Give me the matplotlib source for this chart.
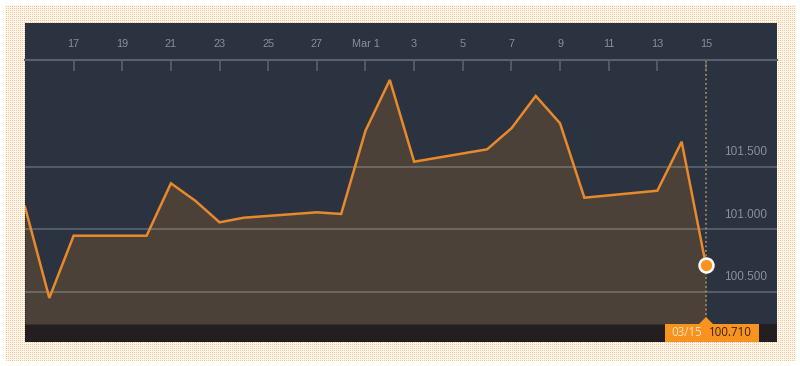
import numpy as np
import matplotlib
matplotlib.use("Agg")
import matplotlib.pyplot as plt
import matplotlib.dates as mdates
from matplotlib.patches import Rectangle, Polygon
from matplotlib.transforms import ScaledTranslation
import datetime as dt

# ---- data ----
dates = ["2017-02-15", "2017-02-16", "2017-02-17", "2017-02-20", "2017-02-21",
         "2017-02-22", "2017-02-23", "2017-02-24", "2017-02-27", "2017-02-28",
         "2017-03-01", "2017-03-02", "2017-03-03", "2017-03-06", "2017-03-07",
         "2017-03-08", "2017-03-09", "2017-03-10", "2017-03-13", "2017-03-14",
         "2017-03-15"]
values = [101.178, 100.450, 100.948, 100.948, 101.367,
          101.228, 101.055, 101.092, 101.135, 101.122,
          101.788, 102.194, 101.540, 101.639, 101.807,
          102.066, 101.847, 101.252, 101.308, 101.700,
          100.710]
ytick_values = [100.5, 101.0, 101.5]
xtick_dates = ["2017-02-17", "2017-02-19", "2017-02-21", "2017-02-23", "2017-02-25",
               "2017-02-27", "2017-03-01", "2017-03-03", "2017-03-05", "2017-03-07",
               "2017-03-09", "2017-03-11", "2017-03-13", "2017-03-15"]
xtick_labels = ["17", "19", "21", "23", "25", "27", "Mar 1", "3", "5", "7",
                "9", "11", "13", "15"]
cursor_label = "03/15"
cursor_value = "100.710"

plt.rcParams['font.family'] = ['Liberation Sans', 'DejaVu Sans']

W, H = 800, 366
fig = plt.figure(figsize=(W / 100, H / 100), dpi=100)
fig.patch.set_facecolor("white")

# dotted beige background pattern
img = np.ones((H, W, 3))
orange = np.array([0xf4, 0xc6, 0x96]) / 255.0
light = np.array([0xff, 0xf7, 0xee]) / 255.0
yy, xx = np.mgrid[0:H, 0:W]
region = (xx >= 5) & (xx < 796) & (yy >= 5) & (yy < 361)
img[region] = light
dots = region & (xx % 2 == 0) & (yy % 2 == 0)
img[dots] = orange
fig.figimage(img, xo=0, yo=0, origin="upper", zorder=0)

def fx(px):
    return px / W

def fy(py):
    return (H - py) / H

# dark panel
panel_l, panel_r, panel_t, panel_b = 25, 777, 23, 342
fig.add_artist(Rectangle((fx(panel_l), fy(panel_b)), fx(panel_r - panel_l), (panel_b - panel_t) / H,
                         transform=fig.transFigure, facecolor="#2b3240", edgecolor="none", zorder=1))
# bottom dark band
band_t = 324
fig.add_artist(Rectangle((fx(panel_l), fy(panel_b)), fx(panel_r - panel_l), (panel_b - band_t) / H,
                         transform=fig.transFigure, facecolor="#231f21", edgecolor="none", zorder=1))

axis_top = 60
ax = fig.add_axes([fx(panel_l), fy(band_t), fx(panel_r - panel_l), (band_t - axis_top) / H])
ax.set_facecolor("none")
ax.set_zorder(2)

x = mdates.date2num([dt.datetime.strptime(d, "%Y-%m-%d") for d in dates])
y = np.array(values)

xmin = mdates.date2num(dt.datetime(2017, 2, 15))
xmax = mdates.date2num(dt.datetime(2017, 3, 15)) + 2.92
ax.set_xlim(xmin, xmax)
ymin, ymax = 100.2416, 102.3536
ax.set_ylim(ymin, ymax)

ax.fill_between(x, y, ymin, color="#4b4139", zorder=1, linewidth=0)
for v in ytick_values:
    ax.axhline(v, color="white", alpha=0.2, lw=1.5, zorder=2)
ax.plot(x, y, color="#e8892b", lw=1.8, zorder=3, solid_joinstyle="miter")

# vertical cursor line
ax.axvline(x[-1], color="#a08a5c", lw=1.3, ls=(0, (1, 1.5)), zorder=2)
ax.plot([x[-1]], [y[-1]], "o", ms=10, mfc="#f7931e", mec="white", mew=1.8, zorder=4, clip_on=False)

# spines / ticks
for s in ["left", "right", "bottom"]:
    ax.spines[s].set_visible(False)
ax.spines["top"].set_color("#5b616c")
ax.spines["top"].set_linewidth(1.5)
tick_x = mdates.date2num([dt.datetime.strptime(d, "%Y-%m-%d") for d in xtick_dates])
ax.set_xticks(tick_x)
ax.set_xticklabels(xtick_labels)
ax.xaxis.set_ticks_position("top")
ax.tick_params(axis="x", direction="in", length=8, width=1.2, color="#5b616c",
               labelcolor="#8a8f99", labelsize=7.8, pad=8, top=True, bottom=False,
               labeltop=True, labelbottom=False)
ax.set_yticks([])

# y labels (inside, right)
off = ScaledTranslation(0, 6 / 72, fig.dpi_scale_trans)
for v in ytick_values:
    ax.text(0.9867, v, f"{v:.3f}", transform=ax.get_yaxis_transform() + off,
            ha="right", va="bottom", fontsize=8.5, color="#8a8f99", zorder=5)

# cursor label box at bottom
cx_px = ax.transData.transform((x[-1], y[-1]))[0]
box_l, box_r = cx_px - 41, cx_px + 53
box_top_px = H - band_t
box_bot_px = H - panel_b
fig.add_artist(Rectangle((box_l / W, box_bot_px / H), (box_r - box_l) / W, (box_top_px - box_bot_px) / H,
                         transform=fig.transFigure, facecolor="#f7931e", edgecolor="none", zorder=3))
fig.add_artist(Polygon([((cx_px - 7) / W, box_top_px / H), ((cx_px + 7) / W, box_top_px / H),
                        (cx_px / W, (box_top_px + 7) / H)],
                       closed=True, transform=fig.transFigure, facecolor="#f7931e", edgecolor="none", zorder=3))
ymid = (box_top_px + box_bot_px) / 2 / H
fig.text((cx_px - 19) / W, ymid, cursor_label, ha="center", va="center", fontsize=8.3,
         color="#fde3c6", family=["Open Sans", "DejaVu Sans"], zorder=4)
fig.text((cx_px + 24) / W, ymid, cursor_value, ha="center", va="center", fontsize=8.3,
         color="#3a2412", family=["Open Sans", "DejaVu Sans"], zorder=4)

fig.savefig("out.png", dpi=100)
